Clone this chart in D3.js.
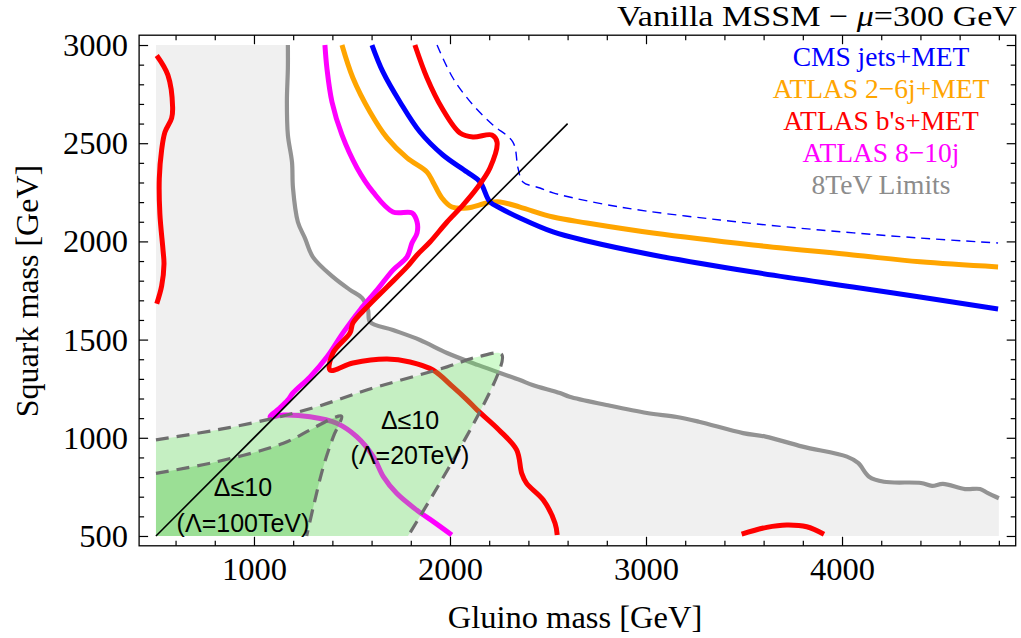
<!DOCTYPE html>
<html><head><meta charset="utf-8">
<script src="https://cdn.jsdelivr.net/npm/d3@7"></script>
<style>
body{margin:0;background:#fff;}
.serif{font-family:"Liberation Serif","Times New Roman",serif;}
.sans{font-family:"Liberation Sans",Arial,sans-serif;}
</style></head>
<body><svg id="c" width="1021" height="638"></svg>
<script>
// ---- data (GeV) ----
const xMajorTicks = [1000, 2000, 3000, 4000];
const yMajorTicks = [500, 1000, 1500, 2000, 2500, 3000];
const legendLabels = ["CMS jets+MET", "ATLAS 2\u22126j+MET", "ATLAS b's+MET", "ATLAS 8\u221210j", "8TeV Limits"];
const legendColors = ["#0000ff", "#ffa500", "#ff0000", "#ff00ff", "#8c8c8c"];

const redLeft = [[504,2947],[561,2847],[585,2684],[580,2628],[546,2557],[529,2466],[517,2320],[520,2140],[536,1956],[541,1885],[529,1773],[504,1683]];
const grayLimit = [[1173,3000],[1173,2883],[1168,2710],[1173,2542],[1194,2404],[1199,2272],[1224,2099],[1260,2017],[1301,1920],[1403,1819],[1490,1753],[1551,1712],[1582,1651],[1592,1590],[1709,1549],[1847,1498],[1985,1432],[2145,1370],[2357,1294],[2421,1269],[2561,1228],[2610,1209],[2798,1167],[3005,1126],[3158,1106],[3270,1082],[3495,1024],[3610,1006],[3799,955],[4025,904],[4082,872],[4138,802],[4214,776],[4403,770],[4459,755],[4515,765],[4628,739],[4704,739],[4742,719],[4800,692]];
const magenta = [[1362,3000],[1372,2883],[1398,2710],[1449,2542],[1526,2374],[1607,2252],[1709,2150],[1806,2145],[1832,2099],[1832,2043],[1806,1992],[1781,1921],[1709,1854],[1628,1753],[1541,1651],[1454,1534],[1372,1411],[1286,1310],[1199,1228],[1173,1193],[1130,1150],[1082,1107],[1149,1116],[1286,1107],[1422,1074],[1524,1006],[1609,904],[1660,802],[1728,717],[1830,632],[1915,573],[2009,505]];
const orange = [[1449,3000],[1505,2832],[1592,2659],[1679,2527],[1781,2425],[1883,2353],[1913,2303],[1959,2221],[2010,2175],[2087,2170],[2189,2196],[2255,2201],[2357,2175],[2526,2124],[2699,2094],[3036,2043],[3546,1982],[4056,1931],[4398,1896],[4796,1870]];
const blue = [[1602,3000],[1658,2863],[1745,2710],[1847,2557],[1964,2440],[2087,2353],[2153,2303],[2204,2201],[2255,2170],[2357,2119],[2526,2048],[2699,2002],[3036,1931],[3546,1844],[4056,1768],[4398,1717],[4796,1656]];
const blueDashed = [[1934,3000],[2015,2832],[2117,2695],[2219,2593],[2321,2506],[2347,2374],[2372,2303],[2459,2272],[2526,2247],[2867,2175],[3378,2109],[3888,2058],[4398,2017],[4796,1992]];
const redB = [[1821,3000],[1883,2832],[1959,2679],[2051,2552],[2117,2532],[2214,2542],[2240,2506],[2204,2374],[2138,2272],[2066,2185],[1985,2099],[1898,1997],[1832,1931],[1781,1870],[1679,1768],[1577,1666],[1505,1585],[1490,1534],[1403,1432],[1388,1345],[1505,1381],[1679,1401],[1796,1386],[1913,1345],[2015,1259],[2087,1193],[2138,1142],[2250,1040],[2340,938],[2366,819],[2391,768],[2476,683],[2536,565],[2547,505]];
const redArc = [[3488,509],[3616,544],[3718,556],[3820,547],[3908,509]];
const diagonal = [[500,500],[2600,2600]];
const lightTop = [[500,989],[810,1040],[1098,1099],[1320,1158],[1575,1243],[1985,1361],[2138,1411],[2265,1422],[1786,500]];
const darkTop = [[500,819],[810,878],[1150,972],[1286,1040],[1403,1100],[1447,1110],[1405,1006],[1354,853],[1303,649],[1269,500]];
const regionLabels = [["\u0394\u226410",1796,1091],["(\u039b=20TeV)",1796,912],["\u0394\u226410",944,750],["(\u039b=100TeV)",944,566]];
const grayCorners = [[4800,500],[500,500],[500,3000]];

// ---- scales ----
const x = d3.scaleLinear().domain([414, 4886]).range([139.1, 1015.7]);
const y = d3.scaleLinear().domain([450, 3050]).range([545.8, 35.2]);
const svg = d3.select("#c");
const line = d3.line().x(d => x(d[0])).y(d => y(d[1]));
const lineC = d3.line().x(d => x(d[0])).y(d => y(d[1])).curve(d3.curveCatmullRom.alpha(0.5));

// gray excluded region
svg.append("path").attr("d", line(grayLimit.concat(grayCorners)) + "Z").attr("fill", "#f0f0f0");

// curves
svg.append("path").attr("d", lineC(grayLimit)).attr("fill","none").attr("stroke","#939393").attr("stroke-width",4.2).attr("stroke-linejoin","round");
const curves = [[redLeft,"#ff0000"],[magenta,"#ff00ff"],[orange,"#ffa500"],[blue,"#0000ff"],[redB,"#ff0000"],[redArc,"#ff0000"]];
curves.forEach(([d,c]) => svg.append("path").attr("d", lineC(d)).attr("fill","none").attr("stroke",c).attr("stroke-width",5).attr("stroke-linejoin","round"));
svg.append("path").attr("d", lineC(blueDashed)).attr("fill","none").attr("stroke","#0000ff").attr("stroke-width",1.4).attr("stroke-dasharray","9,6");

// green regions
svg.append("path").attr("d", lineC(lightTop) + "L" + x(500) + "," + y(500) + "Z").attr("fill","rgb(100,240,90)").attr("fill-opacity",0.3);
svg.append("path").attr("d", lineC(darkTop) + "L" + x(500) + "," + y(500) + "Z").attr("fill","rgb(61,187,45)").attr("fill-opacity",0.3);
[lightTop, darkTop].forEach(d => svg.append("path").attr("d", lineC(d)).attr("fill","none").attr("stroke","#6e6e6e").attr("stroke-width",3.2).attr("stroke-dasharray","13,8"));

// diagonal
svg.append("path").attr("d", line(diagonal)).attr("stroke","#000").attr("stroke-width",1.6);

// region labels
regionLabels.forEach(([t,g,s]) => svg.append("text").attr("class","sans").attr("x",x(g)).attr("y",y(s)).attr("text-anchor","middle").attr("dominant-baseline","central").attr("font-size",25).text(t));

// axes
const W = x.range(), H = y.range();
function minorVals(step, lo, hi){ const a=[]; for(let v=lo; v<=hi; v+=step) a.push(v); return a; }
const xMinor = minorVals(200, 600, 4800).filter(v => !xMajorTicks.includes(v));
const yMinor = minorVals(100, 500, 3000).filter(v => !yMajorTicks.includes(v));

const gB = svg.append("g").attr("transform",`translate(0,${H[0]})`);
gB.call(d3.axisBottom(x).tickValues(xMajorTicks).tickSize(-9).tickPadding(11).tickFormat(d3.format("d")));
gB.append("g").call(d3.axisBottom(x).tickValues(xMinor).tickSize(-5).tickFormat(""));
const gT = svg.append("g").attr("transform",`translate(0,${H[1]})`);
gT.call(d3.axisTop(x).tickValues(xMajorTicks).tickSize(-9).tickFormat(""));
gT.append("g").call(d3.axisTop(x).tickValues(xMinor).tickSize(-5).tickFormat(""));
const gL = svg.append("g").attr("transform",`translate(${W[0]},0)`);
gL.call(d3.axisLeft(y).tickValues(yMajorTicks).tickSize(-9).tickPadding(11).tickFormat(d3.format("d")));
gL.append("g").call(d3.axisLeft(y).tickValues(yMinor).tickSize(-5).tickFormat(""));
const gR = svg.append("g").attr("transform",`translate(${W[1]},0)`);
gR.call(d3.axisRight(y).tickValues(yMajorTicks).tickSize(-9).tickFormat(""));
gR.append("g").call(d3.axisRight(y).tickValues(yMinor).tickSize(-5).tickFormat(""));
svg.selectAll(".domain").remove();
svg.selectAll(".tick line").attr("stroke","#000").attr("stroke-width",1.2);
svg.selectAll(".tick text").attr("class","serif").attr("font-size",32.5).attr("fill","#000");
svg.selectAll("g").attr("font-family",null);
svg.append("rect").attr("x",W[0]).attr("y",H[1]).attr("width",W[1]-W[0]).attr("height",H[0]-H[1]).attr("fill","none").attr("stroke","#000").attr("stroke-width",1.3);

// titles
svg.append("text").attr("class","serif").attr("x",575).attr("y",628).attr("text-anchor","middle").attr("font-size",32.5).text("Gluino mass [GeV]");
svg.append("text").attr("class","serif").attr("transform","translate(38,291) rotate(-90)").attr("text-anchor","middle").attr("font-size",32).text("Squark mass [GeV]");
const tt = svg.append("text").attr("class","serif").attr("x",1017).attr("y",26).attr("text-anchor","end").attr("font-size",30).attr("textLength",400).attr("lengthAdjust","spacingAndGlyphs");
tt.append("tspan").text("Vanilla MSSM \u2212 ");
tt.append("tspan").attr("font-style","italic").text("\u03bc");
tt.append("tspan").text("=300 GeV");

// legend
legendLabels.forEach((t,i) => svg.append("text").attr("class","serif").attr("x",881).attr("y",66 + i*32).attr("text-anchor","middle").attr("font-size",27.5).attr("fill",legendColors[i]).text(t));
</script></body></html>
